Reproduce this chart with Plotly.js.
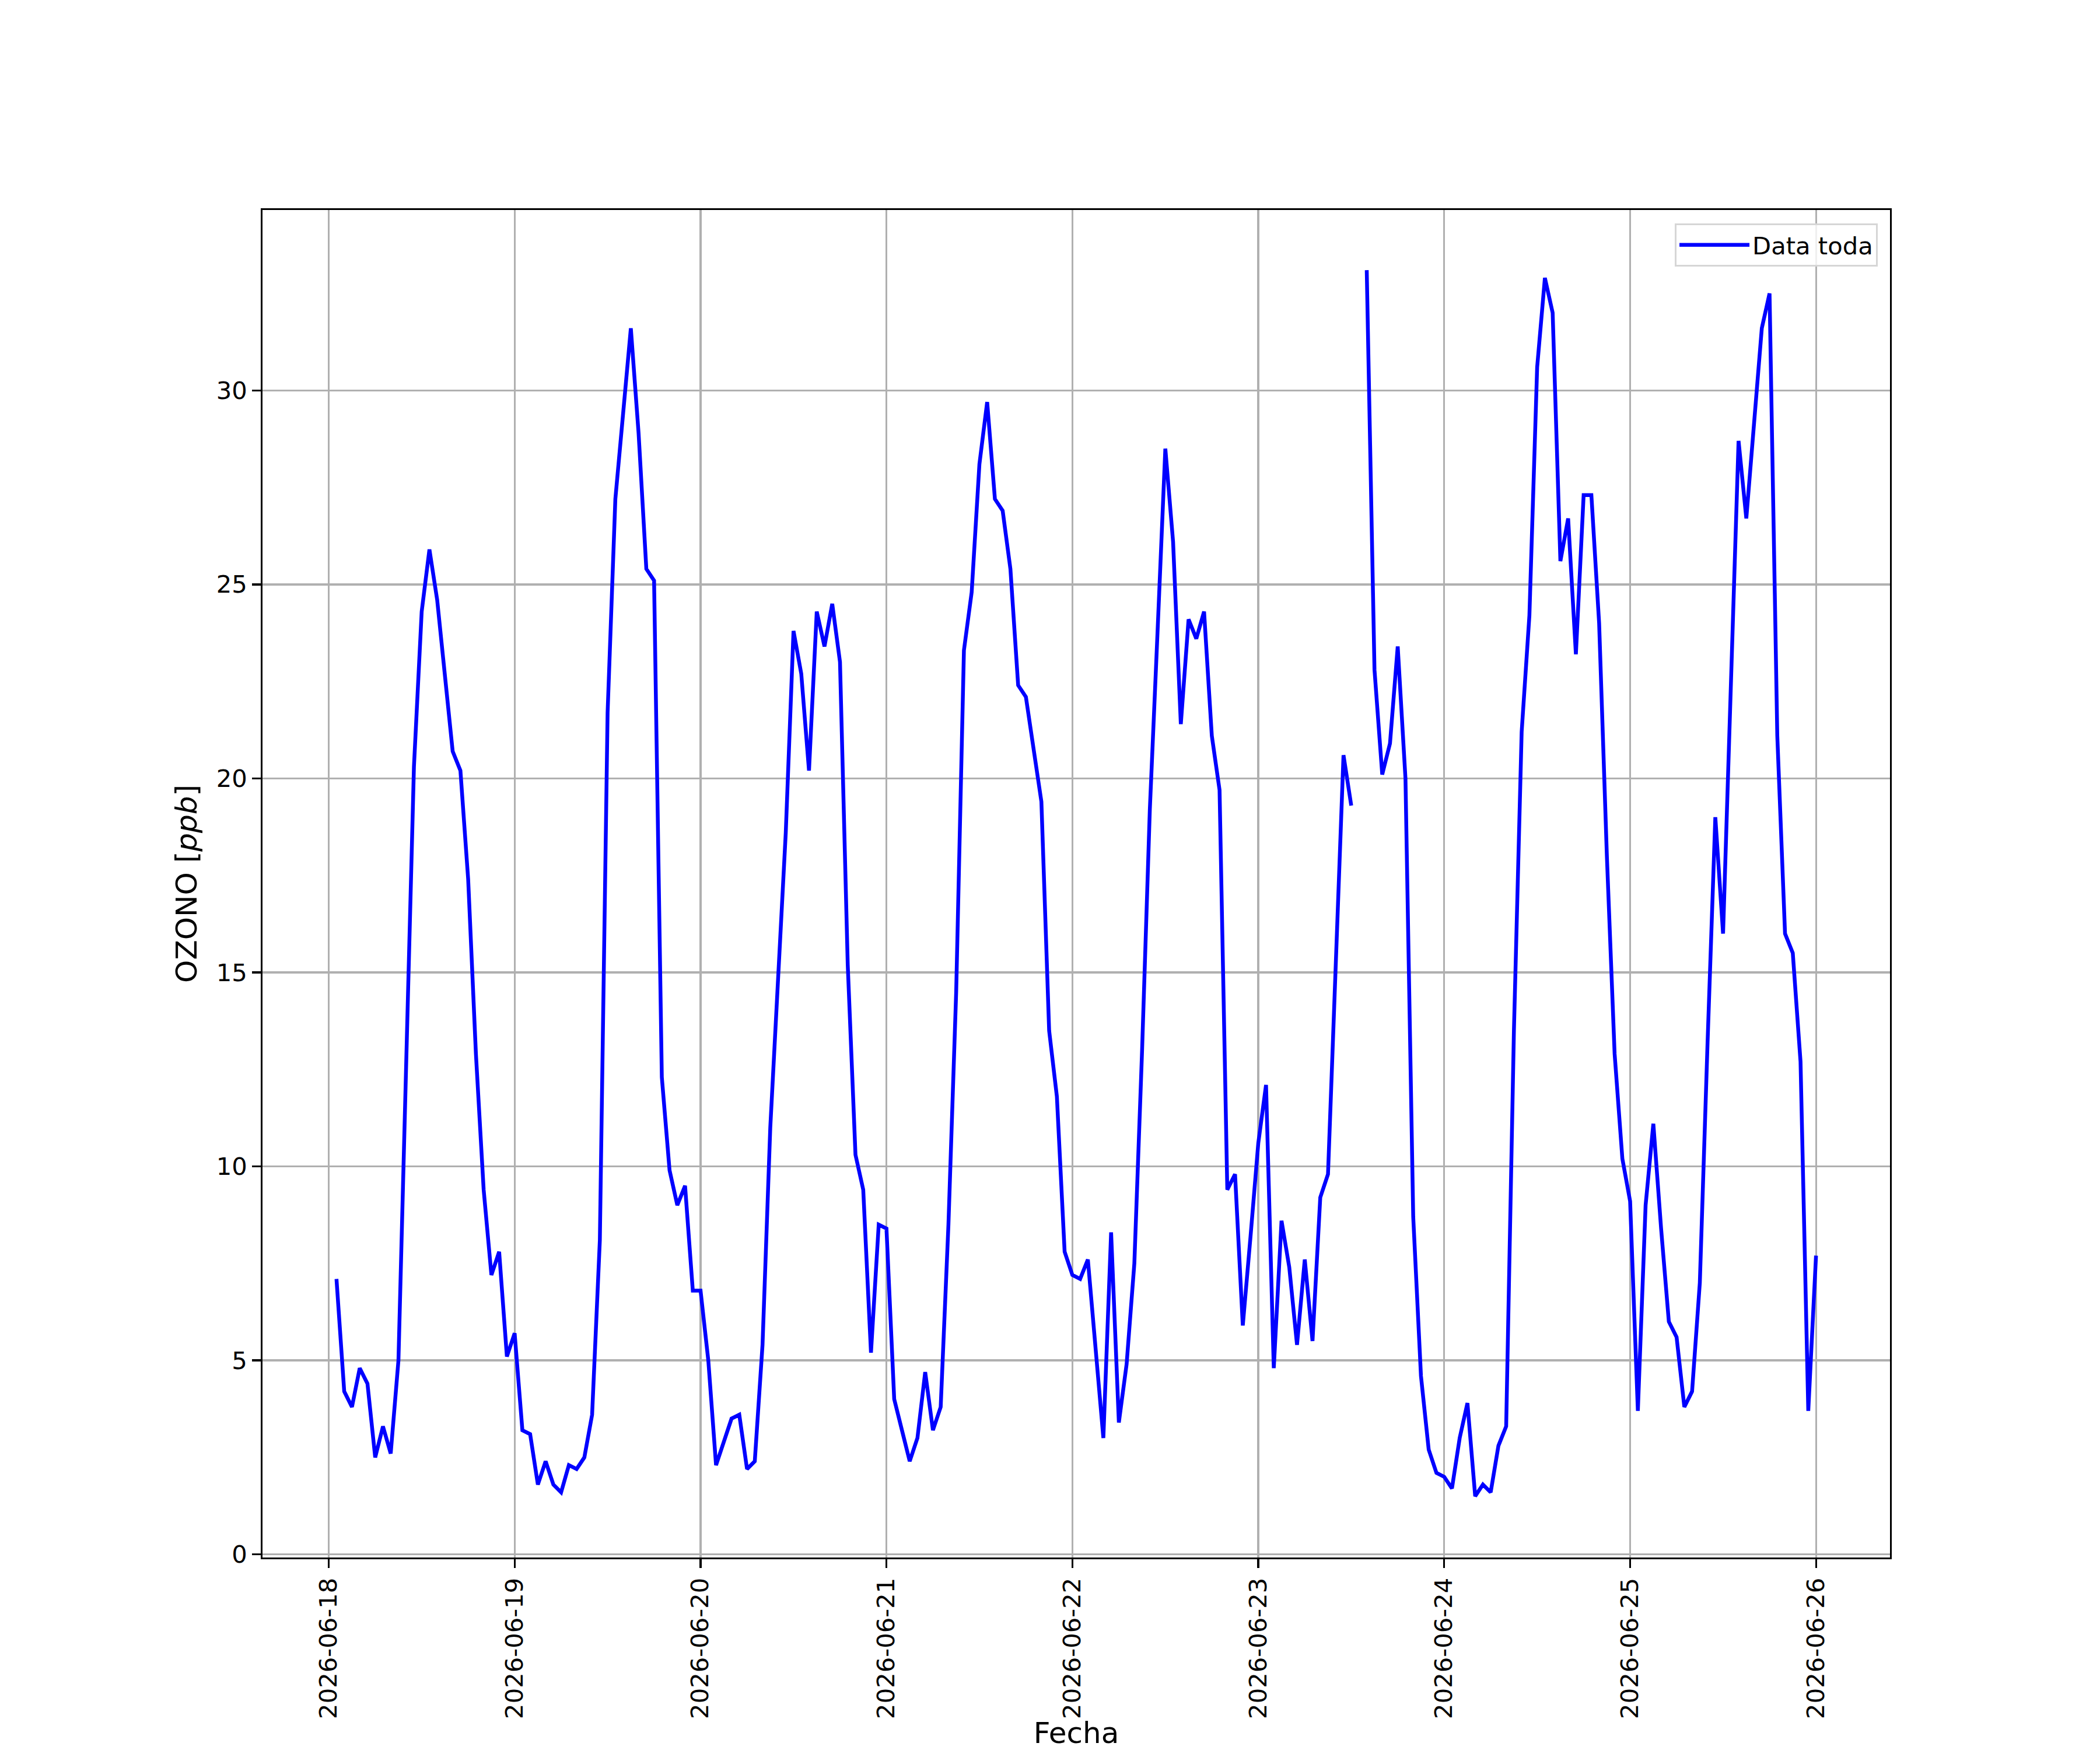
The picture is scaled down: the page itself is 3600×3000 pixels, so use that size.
<!DOCTYPE html>
<html>
<head>
<meta charset="utf-8">
<script src="https://cdn.plot.ly/plotly-3.0.1.min.js"></script>
<style>html,body{margin:0;padding:0;background:#fff;}#chart{width:3600px;height:3000px;}</style>
</head>
<body>
<div id="chart"></div>
<script>
// Hourly ozone values (ppb); each day array = hours 01:00 .. 24:00 (next day 00:00)
var day18 = [7.1, 4.2, 3.8, 4.8, 4.4, 2.5, 3.3, 2.6, 5.0, 12.5, 20.3, 24.3, 25.9, 24.6, 22.6, 20.7, 20.2, 17.4, 12.9, 9.4, 7.2, 7.8, 5.1, 5.7];
var day19 = [3.2, 3.1, 1.8, 2.4, 1.8, 1.6, 2.3, 2.2, 2.5, 3.6, 8.1, 21.7, 27.2, 29.4, 31.6, 28.9, 25.4, 25.1, 12.3, 9.9, 9.0, 9.5, 6.8, 6.8];
var day20 = [5.0, 2.3, 2.9, 3.5, 3.6, 2.2, 2.4, 5.4, 11.0, 14.8, 18.6, 23.8, 22.7, 20.2, 24.3, 23.4, 24.5, 23.0, 15.2, 10.3, 9.4, 5.2, 8.5, 8.4];
var day21 = [4.0, 3.2, 2.4, 3.0, 4.7, 3.2, 3.8, 8.5, 14.5, 23.3, 24.8, 28.1, 29.7, 27.2, 26.9, 25.4, 22.4, 22.1, 20.8, 19.4, 13.5, 11.8, 7.8, 7.2];
var day22 = [7.1, 7.6, 5.3, 3.0, 8.3, 3.4, 4.9, 7.5, 13.0, 19.2, 23.8, 28.5, 26.1, 21.4, 24.1, 23.6, 24.3, 21.1, 19.7, 9.4, 9.8, 5.9, 8.2, 10.6];
var day23 = [12.1, 4.8, 8.6, 7.4, 5.4, 7.6, 5.5, 9.2, 9.8, 15.2, 20.6, 19.3, null, 33.1, 22.8, 20.1, 20.9, 23.4, 20.0, 8.7, 4.6, 2.7, 2.1, 2.0];
var day24 = [1.7, 3.0, 3.9, 1.5, 1.8, 1.6, 2.8, 3.3, 13.5, 21.2, 24.2, 30.6, 32.9, 32.0, 25.6, 26.7, 23.2, 27.3, 27.3, 24.0, 18.0, 12.9, 10.2, 9.1];
var day25 = [3.7, 9.0, 11.1, 8.4, 6.0, 5.6, 3.8, 4.2, 7.0, 13.2, 19.0, 16.0, 22.5, 28.7, 26.7, 29.2, 31.6, 32.5, 21.1, 16.0, 15.5, 12.7, 3.7, 7.7];
var dayNums = [18, 19, 20, 21, 22, 23, 24, 25];
var dayArrays = [day18, day19, day20, day21, day22, day23, day24, day25];
var seriesName = "Data toda";
var yTickVals = [0, 5, 10, 15, 20, 25, 30];

function pad(n){ return (n < 10 ? "0" : "") + n; }
var xs = [], ys = [];
for (var d = 0; d < dayArrays.length; d++) {
  for (var h = 1; h <= 24; h++) {
    var dn = dayNums[d], hh = h;
    if (h === 24) { dn = dn + 1; hh = 0; }
    xs.push("2026-06-" + pad(dn) + " " + pad(hh) + ":00");
    ys.push(dayArrays[d][h - 1]);
  }
}

var FONT = "DejaVu Sans, Liberation Sans, sans-serif";
var FS = 41.7;
var FT = 50;
var trace = {
  x: xs, y: ys, type: "scatter", mode: "lines", name: seriesName,
  line: {color: "#0000ff", width: 6.5}, connectgaps: false
};
var layout = {
  width: 3600, height: 3000,
  paper_bgcolor: "#ffffff", plot_bgcolor: "#ffffff",
  margin: {l: 450, r: 360, t: 360, b: 330, pad: 0},
  font: {family: FONT, size: FS, color: "#000000"},
  showlegend: true,
  legend: {
    x: 0.9925, xanchor: "right", y: 0.99, yanchor: "top",
    bgcolor: "rgba(255,255,255,0.8)", bordercolor: "#d6d6d6", borderwidth: 3,
    font: {family: FONT, size: FS, color: "#000"}, itemwidth: 120
  },
  xaxis: {
    type: "date",
    range: ["2026-06-17 15:27", "2026-06-26 09:33"],
    tick0: "2026-06-18", dtick: 86400000, tickformat: "%Y-%m-%d",
    tickangle: -90,
    ticks: "outside", ticklen: 14.6, tickwidth: 3.33, tickcolor: "#000",
    showgrid: true, gridcolor: "#b0b0b0", gridwidth: 3.33,
    showline: true, linecolor: "#000", linewidth: 3.33, mirror: true,
    zeroline: false, automargin: false,
    tickfont: {family: FONT, size: FS, color: "#000"},
    title: {text: "Fecha", font: {family: FONT, size: FT, color: "#000"}, standoff: 24}
  },
  yaxis: {
    range: [-0.08, 34.65],
    tickvals: yTickVals,
    ticks: "outside", ticklen: 14.6, tickwidth: 3.33, tickcolor: "#000",
    showgrid: true, gridcolor: "#b0b0b0", gridwidth: 3.33,
    showline: true, linecolor: "#000", linewidth: 3.33, mirror: true,
    zeroline: false, automargin: false,
    tickfont: {family: FONT, size: FS, color: "#000"},
    title: {text: "OZONO [<i>ppb</i>]", font: {family: FONT, size: FT, color: "#000"}, standoff: 18}
  }
};
Plotly.newPlot("chart", [trace], layout, {displayModeBar: false, staticPlot: true});
</script>
</body>
</html>
